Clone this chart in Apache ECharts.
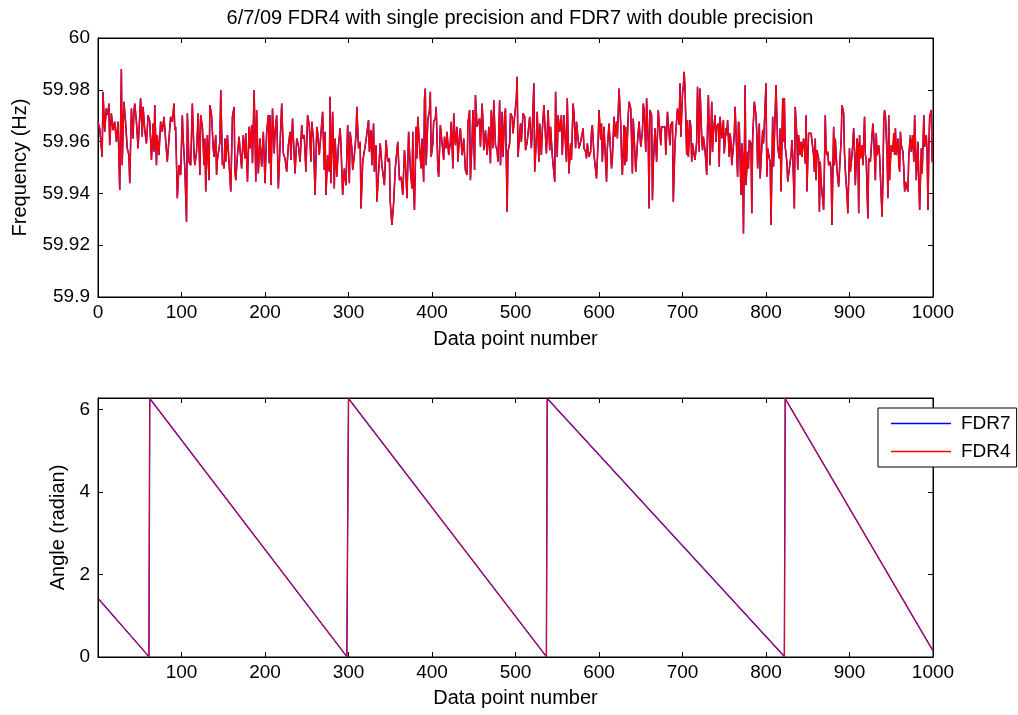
<!DOCTYPE html>
<html>
<head>
<meta charset="utf-8">
<script src="https://cdn.jsdelivr.net/npm/echarts@6/dist/echarts.min.js"></script>
<style>html,body{margin:0;padding:0;background:#fff}#c{width:1018px;height:715px}</style>
</head>
<body>
<div id="c"></div>
<script>
// Title / labels
const titleText = '6/7/09 FDR4 with single precision and FDR7 with double precision';
const seriesNames = ['FDR7', 'FDR4'];
const freqTicks = [59.9, 59.92, 59.94, 59.96, 59.98, 60];
const angleTicks = [0, 2, 4, 6];

// Frequency (Hz) readings: [data point number, value]
const freqData = [
[0,59.9677],[2,59.9651],[5,59.9541],[6,59.9792],[8,59.9638],[10,59.9728],[12,59.9702],[13,59.9747],[14,59.9586],[16,59.9709],
[18,59.9644],[20,59.9677],[22,59.9599],[24,59.9677],[26,59.9413],[28,59.9880],[29,59.9509],[31,59.9754],[33,59.9677],[35,59.9574],
[37,59.9548],[38,59.9439],[40,59.9728],[42,59.9612],[43,59.9715],[44,59.9747],[46,59.9677],[48,59.9574],[50,59.9702],[51,59.9767],
[53,59.9619],[54,59.9734],[56,59.9644],[58,59.9593],[60,59.9702],[62,59.9677],[64,59.9529],[66,59.9670],[67,59.9561],[68,59.9741],
[70,59.9509],[71,59.9625],[73,59.9548],[75,59.9677],[77,59.9638],[79,59.9696],[81,59.9606],[83,59.9522],[85,59.9516],[87,59.9696],
[89,59.9677],[91,59.9747],[92,59.9644],[93,59.9657],[95,59.9381],[97,59.9509],[99,59.9471],[101,59.9702],[102,59.9612],[104,59.9496],
[106,59.9290],[107,59.9709],[109,59.9522],[111,59.9509],[113,59.9747],[115,59.9548],[116,59.9509],[118,59.9561],[120,59.9709],[122,59.9471],
[123,59.9702],[125,59.9657],[127,59.9509],[128,59.9612],[129,59.9407],[131,59.9625],[133,59.9451],[134,59.9741],[136,59.9702],[138,59.9574],
[139,59.9541],[141,59.9625],[142,59.9471],[143,59.9529],[145,59.9522],[146,59.9599],[147,59.9799],[149,59.9509],[150,59.9522],[151,59.9496],
[152,59.9612],[153,59.9522],[155,59.9625],[157,59.9625],[159,59.9407],[161,59.9696],[163,59.9734],[164,59.9484],[165,59.9451],[167,59.9548],
[169,59.9619],[170,59.9574],[172,59.9496],[174,59.9625],[176,59.9535],[177,59.9632],[179,59.9445],[181,59.9657],[182,59.9574],[184,59.9664],
[185,59.9516],[187,59.9799],[189,59.9445],[190,59.9722],[192,59.9477],[194,59.9612],[196,59.9503],[198,59.9638],[200,59.9439],[202,59.9638],
[204,59.9702],[205,59.9516],[206,59.9702],[207,59.9432],[209,59.9728],[211,59.9554],[212,59.9638],[214,59.9702],[216,59.9419],[218,59.9586],
[220,59.9747],[222,59.9554],[224,59.9535],[226,59.9484],[228,59.9586],[230,59.9638],[231,59.9529],[233,59.9689],[234,59.9612],[236,59.9477],
[238,59.9612],[240,59.9586],[242,59.9522],[244,59.9664],[245,59.9612],[247,59.9625],[249,59.9484],[251,59.9702],[253,59.9664],[255,59.9522],
[256,59.9677],[258,59.9612],[260,59.9394],[262,59.9657],[263,59.9638],[265,59.9548],[267,59.9541],[269,59.9715],[270,59.9715],[271,59.9490],
[272,59.9638],[273,59.9394],[275,59.9548],[277,59.9484],[278,59.9773],[279,59.9439],[281,59.9715],[283,59.9419],[284,59.9612],[286,59.9464],
[288,59.9586],[290,59.9651],[291,59.9586],[293,59.9394],[295,59.9496],[297,59.9432],[299,59.9664],[301,59.9439],[302,59.9638],[304,59.9574],
[305,59.9490],[307,59.9548],[309,59.9625],[310,59.9734],[312,59.9574],[314,59.9599],[315,59.9342],[317,59.9522],[319,59.9516],[321,59.9606],
[322,59.9612],[324,59.9683],[325,59.9561],[327,59.9644],[328,59.9509],[330,59.9670],[331,59.9484],[333,59.9586],[334,59.9368],[336,59.9374],
[338,59.9593],[340,59.9509],[342,59.9509],[343,59.9432],[345,59.9606],[347,59.9522],[349,59.9535],[350,59.9368],[352,59.9278],[354,59.9361],
[356,59.9496],[358,59.9490],[359,59.9599],[361,59.9451],[363,59.9464],[365,59.9394],[367,59.9567],[368,59.9529],[370,59.9381],[372,59.9638],
[374,59.9496],[376,59.9419],[377,59.9638],[378,59.9407],[379,59.9336],[381,59.9657],[382,59.9535],[383,59.9696],[385,59.9702],[386,59.9535],
[387,59.9496],[388,59.9612],[390,59.9445],[391,59.9767],[392,59.9805],[393,59.9509],[395,59.9683],[397,59.9722],[398,59.9792],[399,59.9541],
[401,59.9593],[402,59.9677],[404,59.9689],[405,59.9734],[407,59.9496],[408,59.9464],[410,59.9664],[411,59.9670],[412,59.9664],[414,59.9529],
[415,59.9619],[417,59.9574],[418,59.9638],[420,59.9548],[422,59.9599],[423,59.9677],[425,59.9496],[426,59.9709],[428,59.9586],[430,59.9657],
[431,59.9522],[433,59.9625],[434,59.9651],[436,59.9548],[438,59.9612],[439,59.9548],[440,59.9490],[442,59.9471],[443,59.9670],[445,59.9722],
[446,59.9451],[448,59.9606],[449,59.9722],[451,59.9490],[452,59.9780],[454,59.9657],[456,59.9664],[457,59.9689],[458,59.9580],[460,59.9747],
[461,59.9683],[462,59.9567],[464,59.9644],[466,59.9548],[467,59.9593],[468,59.9657],[470,59.9516],[471,59.9722],[473,59.9574],[474,59.9760],
[476,59.9586],[478,59.9567],[479,59.9522],[481,59.9760],[482,59.9509],[484,59.9715],[485,59.9541],[487,59.9702],[488,59.9728],[490,59.9329],
[491,59.9561],[493,59.9593],[494,59.9709],[496,59.9696],[497,59.9632],[499,59.9632],[501,59.9767],[502,59.9850],[503,59.9541],[504,59.9586],
[506,59.9670],[507,59.9599],[509,59.9709],[511,59.9696],[512,59.9567],[514,59.9599],[515,59.9599],[517,59.9696],[519,59.9574],[520,59.9638],
[522,59.9825],[523,59.9484],[525,59.9612],[526,59.9715],[528,59.9522],[529,59.9670],[531,59.9548],[532,59.9638],[534,59.9741],[535,59.9747],
[537,59.9554],[538,59.9632],[539,59.9722],[541,59.9567],[542,59.9657],[544,59.9548],[545,59.9548],[547,59.9445],[548,59.9792],[550,59.9541],
[551,59.9702],[553,59.9638],[555,59.9702],[556,59.9548],[558,59.9702],[559,59.9702],[561,59.9522],[562,59.9767],[564,59.9477],[566,59.9593],
[567,59.9529],[569,59.9747],[570,59.9709],[572,59.9574],[573,59.9677],[575,59.9677],[576,59.9574],[578,59.9599],[580,59.9606],[581,59.9651],
[582,59.9574],[584,59.9561],[585,59.9535],[586,59.9593],[588,59.9541],[590,59.9561],[591,59.9638],[592,59.9664],[594,59.9548],[596,59.9490],
[597,59.9458],[599,59.9606],[600,59.9722],[602,59.9606],[603,59.9670],[604,59.9522],[606,59.9657],[607,59.9664],[609,59.9445],[610,59.9574],
[612,59.9670],[613,59.9612],[615,59.9496],[616,59.9535],[618,59.9696],[619,59.9619],[621,59.9677],[622,59.9612],[624,59.9805],[626,59.9670],
[627,59.9541],[628,59.9471],[629,59.9477],[630,59.9664],[631,59.9509],[632,59.9657],[633,59.9522],[635,59.9702],[636,59.9754],[638,59.9728],
[640,59.9477],[641,59.9689],[643,59.9554],[644,59.9484],[646,59.9593],[647,59.9586],[648,59.9677],[650,59.9580],[652,59.9638],[653,59.9747],
[654,59.9722],[656,59.9561],[657,59.9767],[659,59.9599],[660,59.9342],[661,59.9722],[663,59.9702],[664,59.9374],[665,59.9509],[667,59.9651],
[668,59.9593],[669,59.9522],[671,59.9722],[672,59.9677],[674,59.9586],[675,59.9657],[677,59.9651],[679,59.9657],[680,59.9548],[682,59.9715],
[683,59.9722],[685,59.9586],[686,59.9664],[688,59.9677],[689,59.9368],[691,59.9593],[693,59.9586],[694,59.9728],[696,59.9664],[697,59.9825],
[698,59.9619],[700,59.9786],[701,59.9812],[702,59.9870],[703,59.9805],[705,59.9548],[706,59.9683],[707,59.9541],[709,59.9683],[710,59.9657],
[711,59.9522],[712,59.9593],[714,59.9548],[715,59.9529],[717,59.9599],[718,59.9812],[720,59.9561],[721,59.9805],[723,59.9619],[724,59.9567],
[725,59.9619],[727,59.9567],[729,59.9471],[730,59.9657],[731,59.9780],[733,59.9509],[735,59.9754],[736,59.9561],[737,59.9638],[739,59.9702],
[740,59.9599],[741,59.9657],[743,59.9670],[744,59.9503],[745,59.9696],[747,59.9612],[749,59.9683],[750,59.9554],[752,59.9651],[753,59.9625],
[754,59.9683],[756,59.9541],[757,59.9632],[758,59.9599],[759,59.9509],[761,59.9586],[762,59.9625],[763,59.9734],[765,59.9554],[766,59.9464],
[767,59.9677],[768,59.9664],[770,59.9394],[771,59.9593],[772,59.9548],[773,59.9245],[775,59.9818],[776,59.9432],[778,59.9561],[779,59.9496],
[780,59.9606],[782,59.9593],[783,59.9323],[784,59.9612],[786,59.9754],[788,59.9702],[789,59.9632],[790,59.9496],[792,59.9670],[793,59.9458],
[794,59.9522],[796,59.9644],[797,59.9593],[798,59.9664],[800,59.9825],[801,59.9464],[802,59.9574],[804,59.9535],[805,59.9522],[806,59.9278],
[808,59.9696],[809,59.9503],[810,59.9509],[812,59.9818],[813,59.9702],[814,59.9580],[816,59.9535],[817,59.9651],[818,59.9407],[820,59.9767],
[821,59.9599],[822,59.9767],[823,59.9580],[825,59.9522],[826,59.9445],[828,59.9439],[830,59.9548],[831,59.9606],[832,59.9548],[834,59.9342],
[835,59.9734],[837,59.9619],[838,59.9490],[839,59.9625],[841,59.9548],[842,59.9599],[843,59.9541],[845,59.9612],[846,59.9586],[847,59.9516],
[848,59.9702],[849,59.9407],[851,59.9632],[852,59.9625],[854,59.9632],[855,59.9625],[857,59.9548],[858,59.9484],[859,59.9612],[860,59.9451],
[861,59.9567],[863,59.9535],[864,59.9329],[865,59.9522],[866,59.9445],[867,59.9439],[869,59.9336],[870,59.9509],[871,59.9702],[872,59.9561],
[873,59.9548],[874,59.9561],[875,59.9509],[877,59.9522],[878,59.9484],[879,59.9278],[881,59.9657],[882,59.9509],[883,59.9612],[885,59.9490],
[886,59.9458],[887,59.9426],[889,59.9548],[890,59.9606],[891,59.9741],[893,59.9709],[894,59.9554],[895,59.9490],[897,59.9394],[898,59.9323],
[900,59.9574],[901,59.9484],[903,59.9548],[904,59.9593],[905,59.9651],[906,59.9561],[907,59.9432],[909,59.9612],[910,59.9586],[911,59.9323],
[912,59.9625],[913,59.9535],[915,59.9586],[916,59.9509],[917,59.9599],[918,59.9696],[919,59.9548],[920,59.9535],[922,59.9303],[923,59.9535],
[924,59.9535],[925,59.9522],[927,59.9625],[928,59.9670],[929,59.9625],[931,59.9451],[932,59.9632],[933,59.9548],[935,59.9586],[936,59.9548],
[937,59.9548],[939,59.9310],[940,59.9445],[941,59.9677],[942,59.9722],[943,59.9702],[945,59.9548],[946,59.9381],[947,59.9702],[948,59.9451],
[949,59.9522],[950,59.9586],[952,59.9561],[953,59.9632],[954,59.9548],[955,59.9651],[956,59.9548],[958,59.9612],[959,59.9516],[960,59.9484],
[961,59.9638],[962,59.9586],[964,59.9561],[965,59.9496],[966,59.9407],[967,59.9445],[968,59.9439],[970,59.9407],[971,59.9548],[972,59.9548],
[973,59.9625],[974,59.9561],[976,59.9625],[977,59.9522],[978,59.9702],[979,59.9599],[980,59.9451],[982,59.9599],[983,59.9451],[984,59.9336],
[986,59.9574],[987,59.9477],[988,59.9580],[989,59.9702],[990,59.9580],[992,59.9625],[993,59.9548],[994,59.9336],[995,59.9574],[996,59.9696],
[998,59.9722],[999,59.9522],[1000,59.9522]
];

// Angle (radian) readings at the corners of the sawtooth: [data point number, value]
const angleData = [
[1,1.40],[61,0.01],[62,6.27],[298,0.01],[300,6.27],[537,0.01],[538,6.27],[822,0.01],[823,6.27],[1000,0.15]
];

const black = '#000';
const fs = 19;
const nfs = 20;
const font = 'Liberation Sans, Arial, sans-serif';
const plain = v => String(+(+v).toFixed(2));

function xAx(grid, pos, labels, extra) {
  return Object.assign({
    type: 'value', gridIndex: grid, position: pos, min: 0, max: 1000, interval: 100,
    axisLine: {show: true, onZero: false, lineStyle: {color: black, width: 1}},
    axisTick: {show: true, inside: true, length: 5, lineStyle: {color: black}},
    axisLabel: {show: labels, color: black, fontSize: fs, fontFamily: font, margin: 6, formatter: plain},
    splitLine: {show: false}
  }, extra || {});
}
function yAx(grid, pos, labels, min, max, interval, extra) {
  return Object.assign({
    type: 'value', gridIndex: grid, position: pos, min: min, max: max, interval: interval,
    axisLine: {show: true, onZero: false, lineStyle: {color: black, width: 1}},
    axisTick: {show: true, inside: true, length: 5, lineStyle: {color: black}},
    axisLabel: {show: labels, color: black, fontSize: fs, fontFamily: font, margin: 8, formatter: plain},
    splitLine: {show: false}
  }, extra || {});
}

const chart = echarts.init(document.getElementById('c'), null, {renderer: 'canvas'});
chart.setOption({
  animation: false,
  backgroundColor: '#fff',
  title: {
    text: titleText, left: 515, top: 3, textAlign: 'center',
    textStyle: {fontSize: nfs, fontWeight: 'normal', color: black, fontFamily: font}
  },
  legend: {
    data: seriesNames, orient: 'vertical', left: 878, top: 408,
    backgroundColor: '#fff', borderColor: black, borderWidth: 1,
    padding: [6, 6, 6, 13], itemGap: 9, itemWidth: 60, itemHeight: 1.5, icon: 'rect',
    textStyle: {fontSize: fs, color: black, fontFamily: font, padding: [0, 0, 0, 5]},
    z: 10
  },
  grid: [
    {left: 98, right: 85, top: 38, height: 259, show: true, borderColor: black, borderWidth: 1, backgroundColor: '#fff'},
    {left: 98, right: 85, top: 398, height: 259, show: true, borderColor: black, borderWidth: 1, backgroundColor: '#fff'}
  ],
  xAxis: [
    xAx(0, 'bottom', true, {name: 'Data point number', nameLocation: 'middle', nameGap: 32,
      nameTextStyle: {fontSize: nfs, color: black, fontFamily: font}}),
    xAx(0, 'top', false),
    xAx(1, 'bottom', true, {name: 'Data point number', nameLocation: 'middle', nameGap: 31,
      nameTextStyle: {fontSize: nfs, color: black, fontFamily: font},
      axisLabel: {show: true, color: black, fontSize: fs, fontFamily: font, margin: 6, showMinLabel: false, formatter: plain}}),
    xAx(1, 'top', false)
  ],
  yAxis: [
    yAx(0, 'left', true, freqTicks[0], freqTicks[freqTicks.length - 1], 0.02, {
      name: 'Frequency (Hz)', nameLocation: 'middle', nameGap: 68,
      nameTextStyle: {fontSize: nfs, color: black, fontFamily: font}}),
    yAx(0, 'right', false, freqTicks[0], freqTicks[freqTicks.length - 1], 0.02),
    yAx(1, 'left', true, angleTicks[0], 2 * Math.PI, 2, {
      name: 'Angle (radian)', nameLocation: 'middle', nameGap: 29,
      nameTextStyle: {fontSize: nfs, color: black, fontFamily: font},
      axisLabel: {show: true, color: black, fontSize: fs, fontFamily: font, margin: 8, showMaxLabel: false, formatter: plain}}),
    yAx(1, 'right', false, angleTicks[0], 2 * Math.PI, 2)
  ],
  series: [
    {name: 'FDR7', type: 'line', xAxisIndex: 0, yAxisIndex: 0, data: freqData, symbol: 'none', showSymbol: false,
      color: '#0000ff', lineStyle: {color: '#0000ff', width: 1.5}, z: 2, clip: true},
    {name: 'FDR4', type: 'line', xAxisIndex: 0, yAxisIndex: 0, data: freqData, symbol: 'none', showSymbol: false,
      color: '#ff0000', lineStyle: {color: '#ff0000', width: 1.4}, z: 3, clip: true},
    {name: 'FDR7', type: 'line', xAxisIndex: 2, yAxisIndex: 2, data: angleData, symbol: 'none', showSymbol: false,
      color: '#0000ff', lineStyle: {color: '#0000ff', width: 1.4}, z: 2, clip: true},
    {name: 'FDR4', type: 'line', xAxisIndex: 2, yAxisIndex: 2, data: angleData, symbol: 'none', showSymbol: false,
      color: '#ff0000', lineStyle: {color: '#ff0000', width: 1}, z: 3, clip: true}
  ]
});
</script>
</body>
</html>
